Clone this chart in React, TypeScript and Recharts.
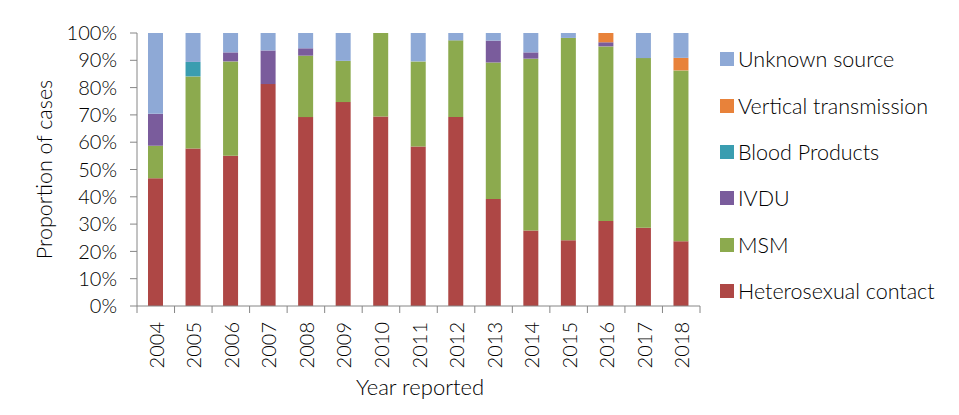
import React from 'react';
import { BarChart, Bar, XAxis, YAxis, Label } from 'recharts';

const years = ['2004', '2005', '2006', '2007', '2008', '2009', '2010', '2011', '2012', '2013', '2014', '2015', '2016', '2017', '2018'];
const heterosexual = [46.8, 57.7, 55.0, 81.3, 69.2, 74.7, 69.4, 58.4, 69.2, 39.2, 27.7, 24.1, 31.1, 28.7, 23.7];
const msm = [11.9, 26.4, 34.6, 0, 22.5, 15.1, 30.6, 31.2, 28.1, 50.0, 62.9, 74.1, 64.0, 62.1, 62.6];
const ivdu = [11.7, 0, 3.3, 12.3, 2.7, 0, 0, 0, 0, 8.0, 2.3, 0, 1.5, 0, 0];
const bloodProducts = [0, 5.3, 0, 0, 0, 0, 0, 0, 0, 0, 0, 0, 0, 0, 0];
const vertical = [0, 0, 0, 0, 0, 0, 0, 0, 0, 0, 0, 0, 3.4, 0, 4.6];
const unknown = [29.6, 10.6, 7.1, 6.4, 5.6, 10.2, 0, 10.4, 2.7, 2.8, 7.1, 1.8, 0, 9.2, 9.1];
const yTicks = [0, 10, 20, 30, 40, 50, 60, 70, 80, 90, 100];

const series = [
  { key: 'hetero', name: 'Heterosexual contact', color: '#AE4745', values: heterosexual },
  { key: 'msm', name: 'MSM', color: '#8CAA4E', values: msm },
  { key: 'ivdu', name: 'IVDU', color: '#7A5C9C', values: ivdu },
  { key: 'blood', name: 'Blood Products', color: '#3A9DB0', values: bloodProducts },
  { key: 'vertical', name: 'Vertical transmission', color: '#E8823A', values: vertical },
  { key: 'unknown', name: 'Unknown source', color: '#8EA9D6', values: unknown },
];

const data = years.map((year, i) => {
  const row: Record<string, any> = { year };
  series.forEach((s) => { row[s.key] = s.values[i]; });
  return row;
});

const FONT = 'Lato, "Open Sans", sans-serif';
const WEIGHT = 300;
const AXIS = '#868686';
const TEXT = '#000000';
const PLOT_W = 563;
const HALF_BAND = PLOT_W / years.length / 2;

const XTick = (props: any) => {
  const { x, y, payload, index } = props;
  return (
    <g>
      <line x1={x - HALF_BAND} y1={y} x2={x - HALF_BAND} y2={y + 7} stroke={AXIS} />
      {index === years.length - 1 && (
        <line x1={x + HALF_BAND} y1={y} x2={x + HALF_BAND} y2={y + 7} stroke={AXIS} />
      )}
      <text
        x={x}
        y={y + 16}
        transform={`rotate(-90, ${x}, ${y + 16})`}
        textAnchor="end"
        dominantBaseline="central"
        fill={TEXT}
        fontSize={20}
        fontWeight={WEIGHT}
        fontFamily={FONT}
      >
        {payload.value}
      </text>
    </g>
  );
};

const LegendBox = () => (
  <div style={{ position: 'absolute', left: 720, top: 36.3, width: 239, fontFamily: FONT, fontWeight: WEIGHT }}>
    {[...series].reverse().map((s) => (
      <div key={s.key} style={{ display: 'flex', alignItems: 'center', height: 46.3 }}>
        <span style={{ width: 14, height: 14, background: s.color, marginRight: 4, display: 'inline-block' }} />
        <span style={{ fontSize: 21.5, color: TEXT, whiteSpace: 'nowrap' }}>{s.name}</span>
      </div>
    ))}
  </div>
);

export default function App() {
  return (
    <div style={{ position: 'absolute', left: 0, top: 0, width: 959, height: 415, background: '#fff' }}>
      <BarChart
        width={959}
        height={415}
        data={data}
        margin={{ top: 33, right: 259, bottom: 0, left: 0 }}
        barSize={15}
        style={{ fontFamily: FONT, fontWeight: WEIGHT }}
      >
        <YAxis
          width={137}
          domain={[0, 100]}
          ticks={yTicks}
          tickFormatter={(v) => `${v}%`}
          stroke={AXIS}
          tickSize={7}
          tickMargin={13}
          tick={{ fill: TEXT, fontSize: 20, fontWeight: WEIGHT }}
          interval={0}
        >
          <Label
            content={() => (
              <text
                x={43.5}
                y={169.5}
                transform="rotate(-90, 43.5, 169.5)"
                textAnchor="middle"
                dominantBaseline="central"
                fill={TEXT}
                fontSize={21.5}
                fontWeight={WEIGHT}
                fontFamily={FONT}
              >
                Proportion of cases
              </text>
            )}
          />
        </YAxis>
        <XAxis
          dataKey="year"
          height={109}
          stroke={AXIS}
          tickLine={false}
          tickSize={0}
          tickMargin={0}
          interval={0}
          tick={<XTick />}
        >
          <Label
            content={() => (
              <text x={420} y={395} textAnchor="middle" fill={TEXT} fontSize={22} fontWeight={WEIGHT} fontFamily={FONT}>
                Year reported
              </text>
            )}
          />
        </XAxis>
        {series.map((s) => (
          <Bar key={s.key} dataKey={s.key} name={s.name} stackId="a" fill={s.color} isAnimationActive={false} />
        ))}
      </BarChart>
      <LegendBox />
    </div>
  );
}
